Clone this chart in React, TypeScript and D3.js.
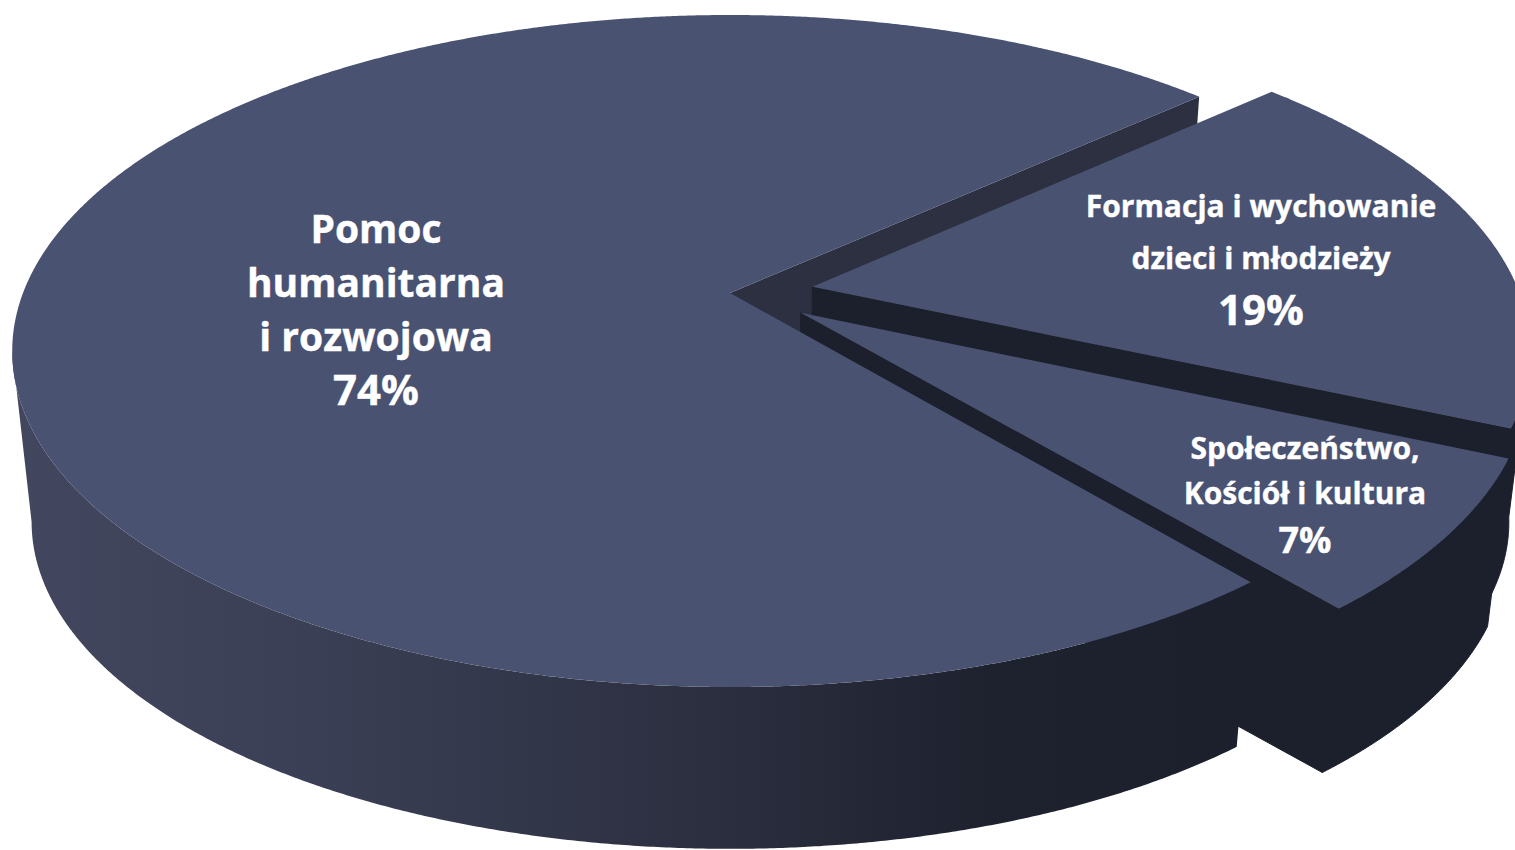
import React from 'react';
import * as d3 from 'd3';

const width = 1515;
const height = 850;

const categories = ['Pomoc humanitarna i rozwojowa', 'Formacja i wychowanie dzieci i młodzieży', 'Społeczeństwo, Kościół i kultura'];
const shares = [74.3, 18.4, 7.3];
// how far each slice is pulled out of the pie (1 = radius)
const explodeX = [0, 0.117, 0.099];
const explodeY = [0, -0.019, 0.06];

const topColor = '#4a5272';
const cutColor = '#2c3041';
const darkColor = '#1c202c';

// perspective of the pie plane, fitted on the picture
const cx = 730;
const cy = 293;
const fx = 707;
const fy = 326;
const persp = 0.1726;
// the floor of the pie is the top face scaled towards a vanishing point
const floorScale = 0.973;
const vanishY = 6680;

const labels = [
  { lines: [['Pomoc', 39, 243], ['humanitarna', 39, 297], ['i rozwojowa', 39, 351], ['74%', 42, 405]], x: 376 },
  { lines: [['Formacja i wychowanie', 30, 217], ['dzieci i młodzieży', 30, 269], ['19%', 42, 325]], x: 1261 },
  { lines: [['Społeczeństwo,', 30, 459], ['Kościół i kultura', 30, 504], ['7%', 36, 553]], x: 1305 },
] as const;

type Pt = [number, number];

const project = (u: number, v: number): Pt => {
  const w = 1 - persp * v;
  return [cx + (fx * u) / w, cy + (fy * v) / w];
};
const toFloor = ([x, y]: Pt): Pt => [cx + floorScale * (x - cx), vanishY + floorScale * (y - vanishY)];

const pie = d3.pie<number>().sort(null).startAngle((140.3 * Math.PI) / 180).endAngle((500.3 * Math.PI) / 180);
const arcs = pie(shares);

const slices = arcs.map((a, i) => {
  const ox = explodeX[i];
  const oy = explodeY[i];
  const angles = d3.range(a.startAngle, a.endAngle, 0.005).concat(a.endAngle).map(t => t - Math.PI / 2);
  const rim = angles.map(t => project(ox + Math.cos(t), oy + Math.sin(t)));
  // only the part of the rim that faces the viewer gets a wall, the widest point is at sin = persp
  const frontRim = angles.filter(t => Math.sin(t) >= persp).map(t => project(ox + Math.cos(t), oy + Math.sin(t)));
  const apex = project(ox, oy);
  return { apex, rim, frontRim, name: categories[i] };
});

const line = d3.line<Pt>().curve(d3.curveLinear);
const poly = (pts: Pt[]) => line(pts) + 'Z';

const topFace = (s: typeof slices[number]) => poly([s.apex, ...s.rim]);
const outerWall = (s: typeof slices[number]) => poly([...s.frontRim, ...s.frontRim.map(toFloor).reverse()]);
const cutWall = (s: typeof slices[number]) => {
  const e = s.rim[s.rim.length - 1];
  return poly([s.apex, e, toFloor(e), toFloor(s.apex)]);
};

export default function App() {
  const [main, formation, society] = slices;
  return (
    <svg width={width} height={height} style={{ position: 'absolute', left: 0, top: 0 }}>
      <defs>
        <linearGradient id="wall" gradientUnits="userSpaceOnUse" x1={12} x2={1240} y1={0} y2={0}>
          <stop offset="0%" stopColor="#42475f" />
          <stop offset="25%" stopColor="#3b3f55" />
          <stop offset="55%" stopColor="#2c3041" />
          <stop offset="80%" stopColor="#1e212e" />
          <stop offset="100%" stopColor={darkColor} />
        </linearGradient>
      </defs>

      {/* back to front */}
      <path d={cutWall(main)} fill={cutColor} />
      <path d={outerWall(formation)} fill={darkColor} stroke={darkColor} />
      <path d={cutWall(formation)} fill={darkColor} stroke={darkColor} />
      <path d={topFace(formation)} fill={topColor} />
      <path d={outerWall(society)} fill={darkColor} stroke={darkColor} />
      <path d={cutWall(society)} fill={darkColor} stroke={darkColor} />
      <path d={topFace(society)} fill={topColor} />
      <path d={outerWall(main)} fill="url(#wall)" />
      <path d={topFace(main)} fill={topColor} />

      <g fontFamily="'Open Sans', sans-serif" fontWeight={700} fill="#fff" stroke="#fff" strokeWidth={0.4} textAnchor="middle">
        {labels.map(l =>
          l.lines.map(([text, size, y]) => (
            <text key={text} x={l.x} y={y} fontSize={size}>
              {text}
            </text>
          )),
        )}
      </g>
    </svg>
  );
}
